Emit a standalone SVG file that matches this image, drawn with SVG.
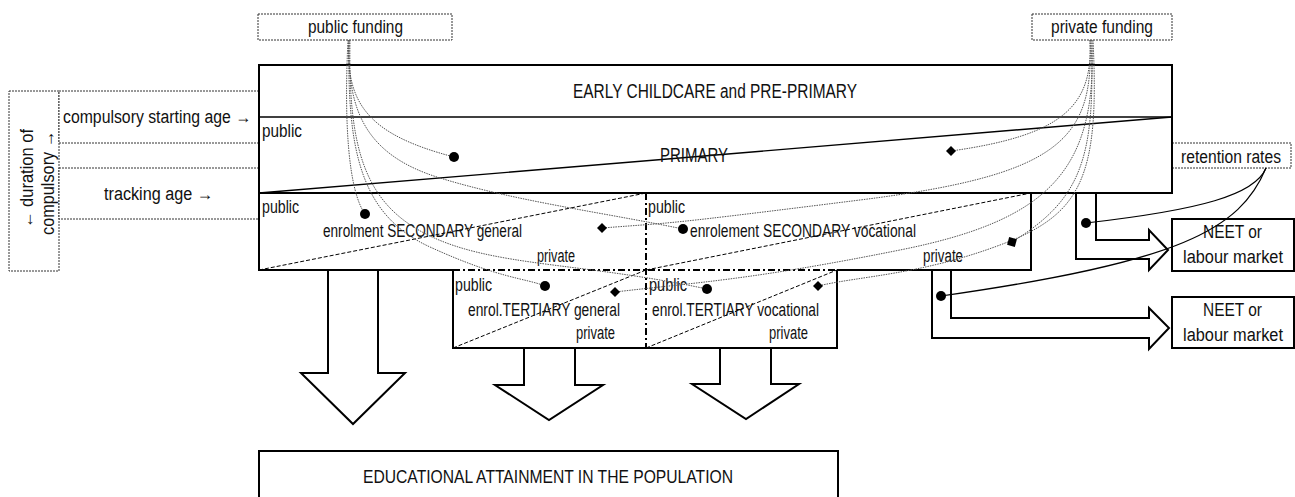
<svg xmlns="http://www.w3.org/2000/svg" width="1295" height="497" viewBox="0 0 1295 497">
<style>
text{font-family:"Liberation Sans Narrow","Liberation Sans",Arial,sans-serif;font-size:18px;fill:#111}
.big{font-size:20px}
.box{fill:#fff;stroke:#000;stroke-width:2}
.solid{fill:none;stroke:#000;stroke-width:2}
.thin{fill:none;stroke:#000;stroke-width:1.4}
.dbox{fill:#fff;stroke:#333;stroke-width:1;stroke-dasharray:2 1}
.diag{fill:none;stroke:#000;stroke-width:1;stroke-dasharray:4 2}
.dashdot{fill:none;stroke:#000;stroke-width:2;stroke-dasharray:7 3 2 3}
.arrow{fill:#fff;stroke:#000;stroke-width:2;stroke-linejoin:miter}
.fund{fill:none;stroke:#555;stroke-width:1;stroke-dasharray:1.5 1}
.ret{fill:none;stroke:#000;stroke-width:1.2}
.mk{fill:#000}
</style>

<g id="left-labels">
  <rect class="dbox" x="9" y="91" width="50" height="180"/>
  <rect class="dbox" x="59" y="91" width="200" height="52"/>
  <rect class="dbox" x="59" y="168" width="200" height="51"/>
  <text x="33" y="178.5" text-anchor="middle" textLength="99" lengthAdjust="spacingAndGlyphs" transform="rotate(-90 33 178.5)">← duration of</text>
  <text x="54" y="183" text-anchor="middle" textLength="104" lengthAdjust="spacingAndGlyphs" transform="rotate(-90 54 183)">compulsory →</text>
  <text x="63" y="123" textLength="188" lengthAdjust="spacingAndGlyphs">compulsory starting age →</text>
  <text x="104" y="200" textLength="109" lengthAdjust="spacingAndGlyphs">tracking age →</text>
</g>

<g id="public-funding">
  <rect class="dbox" x="258" y="14" width="194" height="26"/>
  <text x="308" y="33" textLength="95" lengthAdjust="spacingAndGlyphs">public funding</text>
</g>
<g id="private-funding">
  <rect class="dbox" x="1032" y="14" width="140" height="26"/>
  <text x="1051" y="33" textLength="102" lengthAdjust="spacingAndGlyphs">private funding</text>
</g>
<g id="retention-rates">
  <rect class="dbox" x="1172" y="143" width="119" height="25"/>
  <text x="1231" y="162.5" font-size="15.5" text-anchor="middle" textLength="100" lengthAdjust="spacingAndGlyphs">retention rates</text>
</g>

<g id="early-primary">
  <rect class="box" x="259" y="65" width="913" height="128"/>
  <line class="thin" x1="259" y1="117" x2="1172" y2="117"/>
  <line class="thin" x1="259" y1="193" x2="1172" y2="117"/>
  <text class="big" x="573" y="98" textLength="284" lengthAdjust="spacingAndGlyphs">EARLY CHILDCARE and PRE-PRIMARY</text>
  <text class="big" x="660" y="162" textLength="68" lengthAdjust="spacingAndGlyphs">PRIMARY</text>
  <text x="262" y="137" textLength="40" lengthAdjust="spacingAndGlyphs">public</text>
</g>

<g id="secondary">
  <polyline class="solid" points="453,270 259,270 259,193 1031,193 1031,270 837,270"/>
  <line class="diag" x1="259" y1="270" x2="646" y2="193"/>
  <line class="diag" x1="646" y1="270" x2="1031" y2="193"/>
  <text x="262" y="213" textLength="37" lengthAdjust="spacingAndGlyphs">public</text>
  <text x="323" y="237" textLength="199" lengthAdjust="spacingAndGlyphs">enrolment SECONDARY general</text>
  <text x="537" y="262" textLength="38" lengthAdjust="spacingAndGlyphs">private</text>
  <text x="648" y="213" textLength="37" lengthAdjust="spacingAndGlyphs">public</text>
  <text x="690" y="237" textLength="226" lengthAdjust="spacingAndGlyphs">enrolement SECONDARY vocational</text>
  <text x="923" y="262" textLength="40" lengthAdjust="spacingAndGlyphs">private</text>
</g>

<g id="tertiary">
  <polyline class="solid" points="453,270 453,348 837,348 837,270"/>
  <line class="dashdot" x1="453" y1="270" x2="837" y2="270"/>
  <line class="dashdot" x1="646" y1="193" x2="646" y2="348"/>
  <line class="diag" x1="453" y1="348" x2="646" y2="270"/>
  <line class="diag" x1="646" y1="348" x2="837" y2="270"/>
  <text x="455" y="291" textLength="37" lengthAdjust="spacingAndGlyphs">public</text>
  <text x="468" y="316" textLength="152" lengthAdjust="spacingAndGlyphs">enrol.TERTIARY general</text>
  <text x="576" y="339" textLength="39" lengthAdjust="spacingAndGlyphs">private</text>
  <text x="649" y="291" textLength="38" lengthAdjust="spacingAndGlyphs">public</text>
  <text x="652" y="316" textLength="167" lengthAdjust="spacingAndGlyphs">enrol.TERTIARY vocational</text>
  <text x="769" y="339" textLength="39" lengthAdjust="spacingAndGlyphs">private</text>
</g>

<g id="neet-1">
  <rect class="box" x="1172" y="219" width="122" height="52"/>
  <text x="1203" y="238" textLength="59" lengthAdjust="spacingAndGlyphs">NEET or</text>
  <text x="1183" y="263" textLength="100" lengthAdjust="spacingAndGlyphs">labour market</text>
</g>
<g id="neet-2">
  <rect class="box" x="1172" y="297" width="122" height="51"/>
  <text x="1203" y="316" textLength="59" lengthAdjust="spacingAndGlyphs">NEET or</text>
  <text x="1183" y="341" textLength="100" lengthAdjust="spacingAndGlyphs">labour market</text>
</g>

<g id="attainment">
  <rect class="box" x="259" y="451" width="579" height="52"/>
  <text x="363" y="483" font-size="18.5" textLength="370" lengthAdjust="spacingAndGlyphs">EDUCATIONAL ATTAINMENT IN THE POPULATION</text>
</g>

<g id="connectors">
  <polygon class="arrow" points="328,270 378,270 378,373 405,373 353,424 301,373 328,373"/>
  <polygon class="arrow" points="524,348 575,348 575,385 603,385 549,420 495,385 524,385"/>
  <polygon class="arrow" points="720,348 771,348 771,384 799,384 746,419 692,384 720,384"/>
  <polygon class="arrow" points="1076,193 1096,193 1096,240 1149,240 1149,230 1168,250 1149,270 1149,259 1076,259"/>
  <polygon class="arrow" points="932,270 951,270 951,318 1149,318 1149,308 1169,328 1149,349 1149,338 932,338"/>

  <path class="ret" d="M1266,168 C1255,195 1200,210 1086,223"/>
  <path class="ret" d="M1266,168 C1240,230 1180,262 941,296"/>

  <path class="fund" d="M349,40 C345,105 370,135 454,157"/>
  <path class="fund" d="M348,40 C344,120 348,190 365,214"/>
  <path class="fund" d="M349,40 C347,110 365,155 440,178 S600,212 683,229"/>
  <path class="fund" d="M349,40 C347,150 360,215 430,247 S525,278 545,286"/>
  <path class="fund" d="M350,40 C348,150 365,205 430,236 S580,262 707,289"/>

  <path class="fund" d="M1090,40 C1093,105 1065,135 951,151"/>
  <path class="fund" d="M1090,40 C1094,140 1060,175 860,200 S680,222 602,228"/>
  <path class="fund" d="M1091,40 C1096,160 1080,200 1012,242"/>
  <path class="fund" d="M1092,40 C1097,170 1050,220 900,250 S700,282 615,292"/>
  <path class="fund" d="M1093,40 C1100,180 1080,215 1000,245 S860,276 818,286"/>

  <circle class="mk" cx="454" cy="157" r="5"/>
  <circle class="mk" cx="365" cy="214" r="5"/>
  <circle class="mk" cx="683" cy="229" r="5"/>
  <circle class="mk" cx="545" cy="286" r="5"/>
  <circle class="mk" cx="707" cy="289" r="5"/>
  <circle class="mk" cx="1086" cy="223" r="5"/>
  <circle class="mk" cx="941" cy="296" r="5"/>
  <polygon class="mk" points="951,146 956,151 951,156 946,151"/>
  <polygon class="mk" points="602,223 607,228 602,233 597,228"/>
  <rect class="mk" x="1008" y="238" width="8" height="8" transform="rotate(15 1012 242)"/>
  <polygon class="mk" points="615,287 620,292 615,297 610,292"/>
  <polygon class="mk" points="818,281 823,286 818,291 813,286"/>
</g>
</svg>
